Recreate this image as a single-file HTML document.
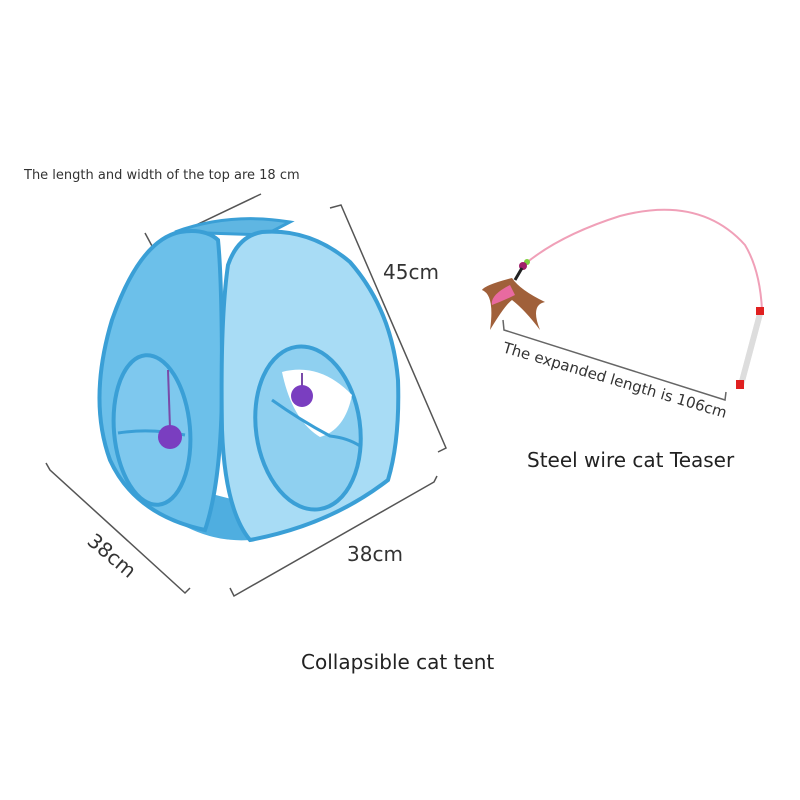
<!DOCTYPE html>
<html><head><style>
html,body{margin:0;padding:0;background:#fff;}
svg{display:block;font-family:"Liberation Sans","DejaVu Sans",sans-serif;}
</style></head><body>
<svg width="800" height="800" viewBox="0 0 800 800">
<rect width="800" height="800" fill="#fff"/>
<text x="24" y="179" font-size="13" fill="#333" font-family="DejaVu Sans, sans-serif">The length and width of the top are 18 cm</text>
<polyline points="145,233 152,246 261,194" fill="none" stroke="#555" stroke-width="1.5"/>
<polyline points="330,208 341,205 446,448 438,452" fill="none" stroke="#555" stroke-width="1.5"/>
<text x="383" y="279" font-size="20" fill="#333" font-family="DejaVu Sans, sans-serif">45cm</text>
<polyline points="46,463 50,470 185,593 190,588" fill="none" stroke="#555" stroke-width="1.5"/>
<text x="0" y="0" font-size="20" fill="#333" font-family="DejaVu Sans, sans-serif" transform="translate(86,543) rotate(40)">38cm</text>
<polyline points="230,588 234,596 434,482 437,476" fill="none" stroke="#555" stroke-width="1.5"/>
<text x="347" y="561" font-size="20" fill="#333" font-family="DejaVu Sans, sans-serif">38cm</text>
<!-- tent back -->
<path d="M175,232 Q230,212 290,222 L265,235 Z" fill="#5fb6e2" stroke="#3a9fd6" stroke-width="3"/>
<path d="M120,470 Q180,545 250,540 L235,500 Z" fill="#4faee0"/>
<!-- left panel -->
<path d="M180,232 Q140,240 112,320 Q88,400 110,460 Q135,515 205,530 Q222,480 222,380 Q222,280 218,240 Q205,228 180,232 Z" fill="#6cc0ea" stroke="#3a9fd6" stroke-width="4"/>
<!-- right panel -->
<path d="M262,232 Q310,228 350,262 Q392,310 398,380 Q400,440 388,480 Q330,525 250,540 Q225,510 222,430 Q220,320 228,265 Q238,236 262,232 Z" fill="#a8dcf5" stroke="#3a9fd6" stroke-width="4"/>
<!-- left window -->
<ellipse cx="152" cy="430" rx="38" ry="75" fill="#7ec8ee" stroke="#3a9fd6" stroke-width="4" transform="rotate(-5 152 430)"/>
<path d="M118,433 Q150,428 185,435" fill="none" stroke="#3a9fd6" stroke-width="3"/>
<line x1="168" y1="370" x2="170" y2="428" stroke="#7a4aa8" stroke-width="2"/>
<circle cx="170" cy="437" r="12" fill="#7a3ec0"/>
<!-- right window -->
<ellipse cx="308" cy="428" rx="52" ry="82" fill="#8fd0f0" stroke="#3a9fd6" stroke-width="4" transform="rotate(-8 308 428)"/>
<path d="M282,372 Q320,362 352,395 Q345,430 320,437 Q292,420 282,372 Z" fill="#fff"/>
<path d="M272,400 Q300,420 330,436 Q348,438 360,446" fill="none" stroke="#3a9fd6" stroke-width="3"/>
<line x1="302" y1="373" x2="302" y2="388" stroke="#7a4aa8" stroke-width="2"/>
<circle cx="302" cy="396" r="11" fill="#7a3ec0"/>
<text x="301" y="669" font-size="20" fill="#222" font-family="DejaVu Sans, sans-serif">Collapsible cat tent</text>
<!-- teaser -->
<path d="M525,264 Q560,235 620,216 Q700,195 745,245 Q760,270 762,310" fill="none" stroke="#f0a0b8" stroke-width="2"/>
<line x1="761" y1="310" x2="741" y2="385" stroke="#ddd" stroke-width="6"/>
<rect x="756" y="307" width="8" height="8" fill="#e02020"/>
<rect x="736" y="380" width="8" height="9" fill="#e02020"/>
<circle cx="527" cy="262" r="3" fill="#7fd040"/>
<circle cx="523" cy="266" r="4" fill="#a0206a"/>
<line x1="522" y1="268" x2="515" y2="280" stroke="#222" stroke-width="3"/>
<path d="M512,278 Q485,285 482,290 Q495,295 490,330 Q505,305 512,300 Q525,310 540,330 Q530,305 545,302 Q520,290 512,278 Z" fill="#a0603a"/>
<path d="M510,285 Q490,295 492,305 Q505,300 515,295 Z" fill="#e86aa0"/>
<polyline points="503,320 504,330 725,400 726,392" fill="none" stroke="#666" stroke-width="1.5"/>
<text x="0" y="0" font-size="15" fill="#333" font-family="DejaVu Sans, sans-serif" transform="translate(502,352) rotate(16.5)">The expanded length is 106cm</text>
<text x="527" y="467" font-size="20" fill="#222" font-family="DejaVu Sans, sans-serif">Steel wire cat Teaser</text>
</svg>
</body></html>
